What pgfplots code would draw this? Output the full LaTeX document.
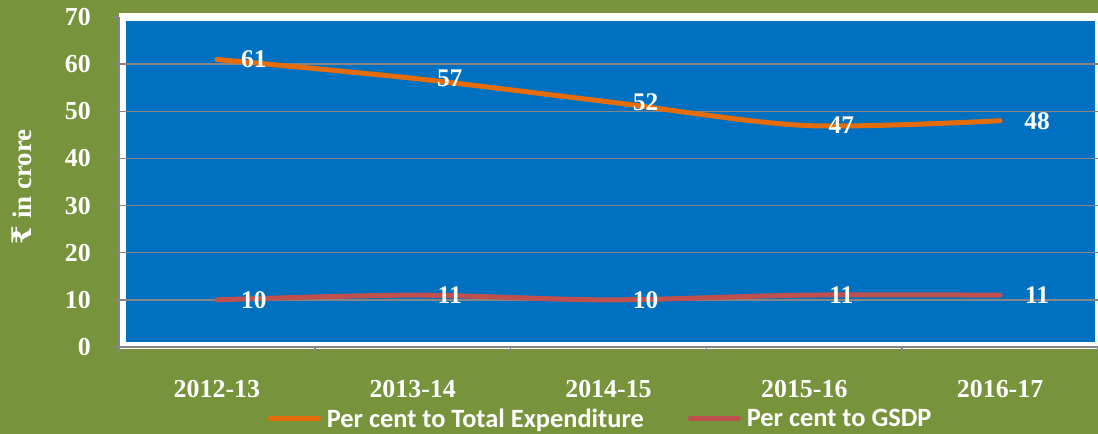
\documentclass[border=0pt]{standalone}
\usepackage{pgfplots}
\pgfplotsset{compat=1.18}
\usepackage{fontspec}
\setmainfont{Liberation Serif}
\newfontfamily\legfont{Carlito}
\newfontfamily\rupeefont{DejaVu Serif}
\definecolor{bgolive}{RGB}{119,147,60}
\definecolor{plotblue}{RGB}{0,112,192}
\definecolor{lorange}{RGB}{228,108,10}
\definecolor{lred}{RGB}{192,80,77}
\definecolor{axgray}{RGB}{134,134,134}
\begin{document}
\begin{tikzpicture}
\begin{axis}[
  at={(119bp,87bp)}, anchor=south west,
  width=979bp, height=330bp, scale only axis,
  set layers, clip=false,
  xmin=-0.5, xmax=4.5, ymin=0, ymax=70,
  xtick={-0.5,0.5,...,4.5}, x tick label as interval,
  xticklabels={2012-13,2013-14,2014-15,2015-16,2016-17},
  ytick={0,10,...,70},
  extra y ticks={10,20,...,60}, extra y tick labels={},
  extra y tick style={ymajorgrids=true, major tick length=0pt},
  axis x line*=bottom, axis y line*=left,
  axis line style={axgray, line width=1.5bp, -},
  tick style={axgray, line width=1.5bp},
  major tick length=6bp, tick align=outside,
  grid style={axgray, line width=1.4bp},
  /pgf/number format/assume math mode=true,
  ticklabel style={font=\fontsize{26}{30}\selectfont\bfseries, text=white},
  yticklabel style={inner sep=0pt, anchor=east, xshift=-22bp},
  xticklabel style={inner sep=0pt, anchor=center, yshift=-36bp},
  ylabel={{\rupeefont ₹} in crore},
  ylabel style={at={(axis description cs:-0.099,0.485)}, anchor=center, font=\fontsize{27}{30}\selectfont\bfseries, text=white},
  legend style={at={(0.492,-0.218)}, anchor=center, draw=none, fill=none,
    font=\legfont\fontsize{26.5}{30}\selectfont\bfseries, text=white,
    legend columns=2,
    /tikz/every odd column/.append style={column sep=4bp},
    /tikz/every even column/.append style={column sep=42bp}},
  legend image code/.code={\draw[#1, line width=5bp, line cap=round] (0bp,0bp) -- (48bp,0bp);},
  nodes near coords,
  every node near coord/.append style={anchor=center, xshift=37bp, font=\fontsize{25.5}{30}\selectfont\bfseries, text=white},
]
\begin{pgfonlayer}{axis background}
\fill[bgolive] ([xshift=-119bp,yshift=-87bp]rel axis cs:0,0) rectangle ([yshift=17bp]rel axis cs:1,1);
\fill[white] ([yshift=-2bp]rel axis cs:0,0) rectangle ([yshift=4bp]rel axis cs:1,1);
\fill[plotblue] ([xshift=7bp,yshift=5bp]rel axis cs:0,0) rectangle ([xshift=-3bp,yshift=-4bp]rel axis cs:1,1);
\end{pgfonlayer}
\addplot[lorange, line width=5bp, smooth, line cap=round] coordinates {(0,61)(1,57)(2,52)(3,47)(4,48)};
\addlegendentry{Per cent to Total Expenditure}
\addplot[lred, line width=5bp, smooth, line cap=round] coordinates {(0,10)(1,11)(2,10)(3,11)(4,11)};
\addlegendentry{Per cent to GSDP}
\end{axis}
\pgfresetboundingbox
\path (0,0) rectangle (1098bp,434bp);
\end{tikzpicture}
\end{document}
